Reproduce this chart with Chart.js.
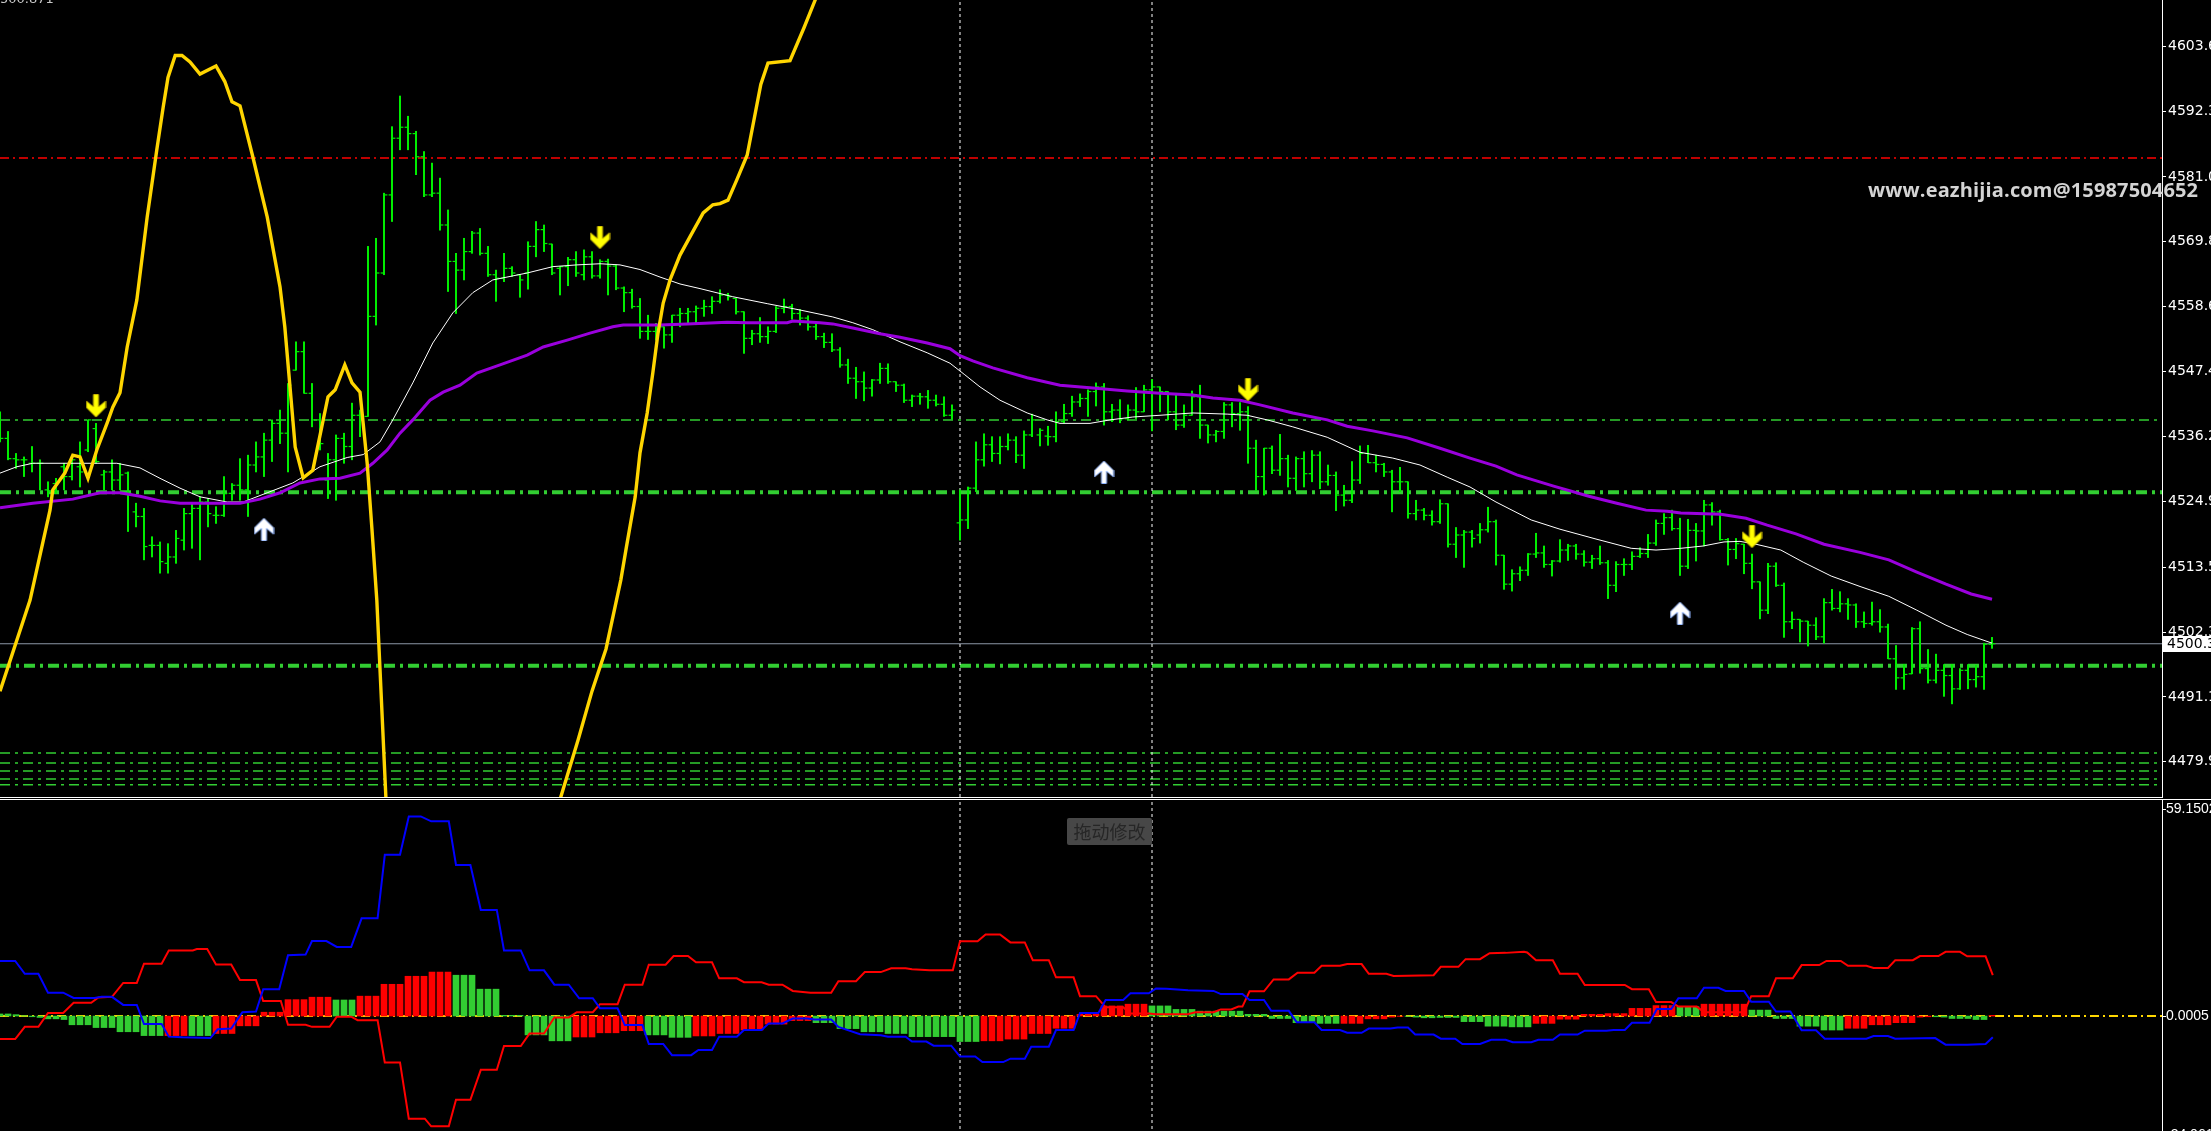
<!DOCTYPE html>
<html>
<head>
<meta charset="utf-8">
<title>K线图</title>
<script src="https://cdn.jsdelivr.net/npm/chart.js@4.4.1/dist/chart.umd.min.js"></script>
<style>
  html, body { margin: 0; padding: 0; background: #000; overflow: hidden; }
  body { width: 2211px; height: 1131px; position: relative; }
  canvas { position: absolute; left: 0; }
  #main { top: 0; }
  #sub { top: 800px; }
  .rule { position: absolute; left: 0; height: 1px; background: #fff; }
  #topText { position: absolute; left: 0; top: -9px; font: 13px "DejaVu Sans"; color: #c8c8c8; }
  #watermark { position: absolute; left: 1868px; top: 180px; font: bold 20px "Open Sans"; line-height: 19px; letter-spacing: 0.15px; color: #d4d4d4; white-space: nowrap; }
  #dragTip { position: absolute; left: 1067px; top: 818px; width: 85px; height: 27px; background: #474747; border-radius: 2px;
             font: 18px "Noto Sans CJK SC"; line-height: 27px; color: #262626; text-align: center; }
</style>
</head>
<body>
<canvas id="main" width="2211" height="797"></canvas>
<div class="rule" style="top:797px;width:2163px"></div>
<div class="rule" style="top:799px;width:2211px"></div>
<canvas id="sub" width="2211" height="341"></canvas>
<div id="topText">500.871</div>
<div id="watermark">www.eazhijia.com@15987504652</div>
<div id="dragTip">拖动修改</div>
<script>
// ---- price panel data ----
const priceTicks = [4603.6, 4592.3, 4581.0, 4569.8, 4558.6, 4547.4, 4536.2, 4524.9, 4513.5, 4502.3, 4491.1, 4479.9];
const priceMin = 4473.8, priceMax = 4611.6;
const lastPrice = 4500.3;

const barOpen = [
  4539.0,4535.8,4532.3,4532.1,4531.5,4531.5,4526.9,4528.0,4530.9,4529.2,
  4530.9,4533.8,4537.5,4529.5,4530.0,4528.6,4529.8,4523.1,4522.3,4517.3,
  4517.3,4514.2,4515.3,4518.2,4522.8,4523.7,4524.8,4522.5,4522.5,4526.3,
  4527.7,4526.9,4531.2,4532.6,4535.5,4538.4,4536.7,4547.6,4550.8,4543.6,
  4539.0,4528.6,4532.1,4535.8,4534.4,4539.8,4539.6,4556.9,4564.4,4577.9,
  4587.7,4589.6,4588.5,4584.5,4577.9,4578.2,4572.7,4566.4,4564.9,4568.1,
  4571.3,4567.8,4564.1,4563.5,4565.2,4564.1,4564.4,4569.0,4571.9,4569.4,
  4565.2,4565.5,4566.7,4564.1,4567.2,4563.9,4566.4,4565.6,4561.8,4561.0,
  4558.6,4554.3,4554.3,4555.1,4553.7,4557.1,4557.4,4557.7,4558.3,4558.6,
  4559.5,4560.6,4560.0,4557.7,4553.1,4553.9,4553.4,4554.3,4558.3,4558.6,
  4557.4,4556.6,4555.1,4553.4,4552.4,4551.1,4548.5,4546.2,4545.6,4544.5,
  4545.9,4547.9,4545.6,4545.0,4542.4,4543.1,4543.0,4542.4,4541.7,4539.8,
  4521.2,4521.7,4527.2,4532.1,4534.7,4533.2,4534.4,4535.5,4532.9,4536.4,
  4536.4,4536.2,4536.1,4538.7,4540.1,4542.1,4542.7,4543.9,4544.7,4540.4,
  4540.7,4539.2,4540.7,4540.4,4544.2,4544.7,4543.9,4540.4,4538.1,4539.8,
  4543.0,4538.1,4536.4,4537.0,4541.6,4540.1,4540.4,4534.1,4529.2,4534.1,
  4530.3,4532.3,4528.9,4532.3,4529.7,4532.9,4528.3,4529.4,4526.0,4525.1,
  4528.6,4533.2,4531.6,4531.3,4530.0,4528.3,4528.3,4522.8,4523.4,4522.5,
  4521.4,4524.5,4517.5,4519.1,4519.6,4519.1,4520.0,4521.4,4515.6,4510.6,
  4512.4,4513.0,4515.8,4516.0,4514.0,4514.6,4516.5,4517.2,4515.8,4514.4,
  4515.0,4514.3,4510.4,4514.0,4514.0,4515.4,4515.9,4517.7,4521.1,4522.1,
  4520.2,4513.7,4519.9,4519.8,4524.3,4523.1,4518.3,4516.6,4517.5,4514.2,
  4511.0,4506.1,4513.7,4510.4,4504.1,4504.5,4504.2,4503.5,4501.5,4507.4,
  4506.4,4507.2,4507.0,4504.1,4503.8,4504.1,4503.2,4497.7,4494.4,4495.1,
  4502.9,4496.0,4494.0,4495.7,4494.8,4492.5,4495.7,4494.1,4494.6,4500.2
];
const barHigh = [
  4540.4,4537.0,4533.2,4532.6,4534.4,4532.1,4528.3,4528.9,4531.5,4532.6,
  4535.2,4539.0,4538.4,4530.3,4532.1,4531.5,4530.0,4524.6,4523.7,4518.8,
  4517.9,4517.6,4519.9,4523.7,4524.6,4525.7,4525.4,4524.0,4529.2,4528.0,
  4532.3,4532.9,4535.2,4536.7,4539.0,4540.7,4545.3,4552.5,4552.5,4545.3,
  4540.1,4533.2,4536.4,4536.7,4541.9,4540.7,4569.0,4570.4,4578.2,4589.7,
  4595.0,4591.5,4588.9,4585.4,4583.4,4580.8,4575.3,4567.8,4570.4,4571.6,
  4572.1,4569.0,4564.9,4567.8,4565.5,4564.1,4569.8,4573.3,4572.7,4569.4,
  4565.5,4567.1,4568.1,4568.4,4568.1,4566.7,4566.8,4565.8,4562.0,4561.6,
  4560.0,4557.1,4555.7,4555.1,4557.1,4558.3,4558.3,4558.7,4559.7,4560.3,
  4561.5,4560.9,4560.0,4557.7,4554.5,4556.7,4555.1,4558.6,4559.9,4559.0,
  4558.1,4557.0,4555.8,4554.0,4553.9,4551.5,4549.5,4548.1,4547.3,4546.0,
  4548.8,4548.7,4545.6,4545.2,4543.3,4543.6,4544.1,4543.3,4543.0,4541.6,
  4526.9,4527.4,4535.2,4536.6,4536.1,4536.1,4536.6,4536.1,4537.1,4540.0,
  4537.5,4537.9,4540.4,4541.7,4543.1,4543.5,4544.2,4545.4,4545.3,4541.7,
  4542.5,4541.6,4544.6,4545.0,4546.0,4544.7,4543.9,4543.6,4541.6,4544.0,
  4545.0,4538.1,4537.2,4542.0,4542.0,4542.0,4541.3,4535.5,4534.1,4534.5,
  4536.5,4532.9,4532.6,4533.5,4533.7,4533.5,4531.2,4530.0,4527.7,4531.8,
  4534.5,4534.6,4532.9,4531.5,4530.3,4530.8,4528.3,4525.1,4523.7,4523.3,
  4525.2,4524.5,4520.4,4519.9,4519.9,4521.1,4523.9,4521.7,4515.6,4513.1,
  4513.6,4515.9,4519.4,4517.2,4514.7,4518.3,4517.5,4517.5,4516.4,4515.6,
  4517.2,4514.7,4514.5,4515.0,4516.2,4516.9,4519.2,4521.7,4522.8,4523.4,
  4522.0,4521.8,4521.1,4525.1,4524.7,4523.4,4518.5,4518.5,4517.5,4515.8,
  4511.0,4514.2,4514.3,4510.8,4505.8,4504.5,4504.2,4504.8,4508.1,4509.7,
  4509.3,4508.1,4507.2,4505.8,4507.5,4506.2,4503.7,4500.0,4496.7,4503.1,
  4504.1,4499.3,4498.5,4496.7,4496.7,4496.0,4496.7,4496.6,4500.4,4501.4
];
const barLow = [
  4535.2,4532.1,4530.6,4529.2,4530.0,4526.9,4525.7,4526.3,4526.9,4528.6,
  4527.4,4533.5,4531.5,4526.9,4526.9,4526.9,4519.7,4520.5,4514.8,4515.3,
  4512.5,4512.5,4514.2,4516.5,4516.8,4514.8,4520.5,4521.1,4522.3,4525.1,
  4525.1,4522.3,4530.0,4529.2,4531.8,4534.9,4530.0,4547.6,4543.6,4537.8,
  4533.8,4525.4,4525.1,4531.5,4532.1,4536.1,4539.6,4555.4,4564.1,4573.3,
  4585.7,4585.7,4581.4,4577.6,4577.6,4571.8,4561.2,4557.4,4563.2,4567.8,
  4567.5,4563.8,4559.5,4562.9,4563.8,4560.2,4561.6,4567.2,4568.1,4564.1,
  4560.6,4562.2,4563.8,4563.2,4563.5,4563.5,4560.6,4561.5,4557.7,4558.3,
  4553.1,4552.9,4552.8,4551.4,4552.4,4555.1,4555.7,4555.7,4556.9,4557.4,
  4559.2,4559.7,4557.3,4550.5,4552.0,4552.4,4552.2,4554.1,4557.5,4556.4,
  4555.4,4554.5,4552.9,4551.5,4550.8,4548.1,4545.3,4542.7,4542.3,4543.1,
  4545.3,4545.3,4543.9,4542.0,4541.3,4541.7,4541.0,4541.4,4539.6,4539.1,
  4518.2,4520.2,4526.6,4531.0,4531.8,4531.4,4533.8,4531.6,4530.6,4536.1,
  4534.5,4534.6,4535.2,4538.5,4539.6,4541.3,4539.6,4541.4,4538.1,4538.7,
  4538.5,4539.0,4539.2,4540.4,4537.1,4540.4,4539.0,4537.3,4537.7,4539.8,
  4535.8,4535.0,4535.2,4535.8,4537.8,4537.2,4531.5,4526.8,4526.0,4529.7,
  4529.4,4527.4,4526.8,4527.4,4528.3,4527.1,4527.7,4523.3,4524.1,4524.7,
  4528.0,4531.6,4530.0,4529.2,4523.1,4526.6,4522.0,4521.7,4521.7,4520.8,
  4521.1,4517.0,4515.2,4513.5,4517.0,4517.7,4519.6,4513.9,4509.7,4509.4,
  4511.2,4512.1,4515.2,4513.5,4512.0,4514.4,4514.7,4514.9,4513.7,4513.3,
  4514.0,4508.1,4509.3,4512.1,4513.1,4515.2,4515.2,4517.3,4519.2,4519.9,
  4512.1,4513.3,4514.6,4517.2,4520.8,4518.2,4513.9,4515.0,4512.4,4509.8,
  4504.6,4505.5,4510.2,4501.4,4502.9,4500.6,4499.9,4501.0,4500.4,4506.1,
  4505.8,4504.5,4503.1,4503.1,4503.5,4502.3,4497.7,4492.4,4492.4,4495.1,
  4495.2,4493.5,4493.5,4491.2,4489.9,4492.4,4492.5,4492.8,4492.4,4499.5
];
const barClose = [
  4535.8,4532.3,4532.1,4532.1,4531.5,4531.5,4526.6,4528.3,4529.2,4532.1,
  4530.0,4539.0,4531.8,4530.0,4528.6,4529.5,4526.3,4522.3,4517.1,4517.3,
  4514.5,4515.3,4518.5,4522.8,4523.7,4524.8,4522.8,4522.5,4526.3,4527.7,
  4526.9,4531.2,4532.6,4535.5,4538.4,4536.7,4545.0,4550.8,4543.6,4539.0,
  4534.9,4532.1,4535.8,4534.4,4539.8,4539.6,4556.9,4564.4,4577.9,4587.7,
  4589.6,4588.5,4584.5,4577.9,4578.2,4572.7,4566.4,4564.9,4568.1,4571.3,
  4567.8,4564.1,4563.5,4565.2,4564.4,4563.2,4569.0,4571.9,4569.5,4564.4,
  4565.5,4566.7,4564.4,4567.2,4563.9,4566.4,4565.6,4561.8,4561.0,4558.6,
  4554.3,4554.3,4555.1,4553.7,4557.1,4557.4,4557.7,4558.3,4558.6,4559.5,
  4560.6,4560.3,4557.7,4553.1,4553.9,4553.4,4554.3,4558.3,4558.6,4557.4,
  4556.6,4555.1,4553.4,4552.4,4551.1,4548.5,4546.2,4545.6,4544.5,4545.9,
  4547.9,4545.6,4545.0,4542.4,4543.1,4543.0,4542.4,4541.7,4539.8,4540.7,
  4521.7,4527.2,4532.1,4534.7,4533.2,4534.4,4535.5,4532.9,4536.4,4539.0,
  4537.2,4536.1,4538.7,4540.1,4542.1,4542.7,4543.9,4544.7,4540.4,4540.7,
  4539.2,4540.7,4540.4,4544.2,4544.7,4543.9,4540.4,4538.1,4539.8,4543.0,
  4538.1,4536.4,4537.0,4541.6,4540.1,4540.4,4534.1,4529.2,4534.1,4530.3,
  4532.3,4528.9,4532.3,4529.7,4532.9,4528.3,4529.4,4526.0,4525.1,4528.6,
  4533.2,4531.6,4531.3,4530.0,4528.3,4528.3,4522.8,4523.4,4522.5,4521.4,
  4524.5,4517.5,4519.1,4519.6,4518.5,4520.0,4521.4,4515.6,4510.6,4512.4,
  4513.0,4515.8,4516.0,4514.0,4514.6,4516.5,4517.2,4515.8,4514.4,4515.0,
  4514.3,4510.4,4514.0,4514.0,4515.4,4515.9,4517.7,4521.1,4522.1,4520.2,
  4513.7,4519.9,4519.8,4524.3,4523.1,4518.3,4516.6,4517.6,4514.2,4511.0,
  4506.1,4513.7,4510.4,4504.1,4504.5,4504.2,4503.5,4501.5,4507.4,4506.4,
  4507.2,4507.0,4504.1,4503.8,4504.1,4503.2,4497.7,4494.4,4495.0,4502.9,
  4496.0,4494.0,4495.7,4494.8,4492.5,4495.7,4494.1,4494.6,4500.2,4500.3
];

// indicator lines on the price panel: [bar index, price]
const yellowPathA = [
  [0,4492.1],[3.75,4507.8],[6.25,4523.4],[6.6,4526.9],[8.1,4529.8],[9.1,4532.9],[10,4532.6],[11,4528.9],
  [12.1,4533.8],[13.4,4538.5],[14.1,4541.2],[15,4543.7],[15.9,4551.6],[17.1,4559.7],[18.4,4574.1],[19.6,4585.7],
  [20.4,4593.1],[21,4598.2],[21.9,4602.0],[22.75,4602.0],[23.75,4600.9],[25,4598.8],[27,4600.2],[28.1,4597.5],
  [29,4594.0],[30,4593.3],[31.6,4584.5],[33.4,4574.1],[35,4562.0],[35.6,4555.1],[36.25,4544.7],[36.9,4534.3],
  [37.9,4529.0],[39.1,4530.3],[41,4543.0],[41.9,4544.2],[43.1,4548.5],[44,4545.4],[45,4543.8],[45.9,4531.5],
  [46.5,4520.0],[47.1,4507.9],[48.25,4473.3],[49,4456.0]
];
const yellowPathB = [
  [69.4,4468.0],[70.1,4473.8],[72.25,4483.6],[74,4492.1],[75.75,4499.4],[77.6,4511.3],[78.3,4517.0],[79.4,4525.7],
  [80,4533.3],[80.9,4540.2],[81.6,4547.1],[82.25,4554.0],[82.9,4559.2],[83.75,4563.2],[85,4567.5],[86.5,4571.3],
  [87.9,4574.8],[89.1,4576.2],[90,4576.4],[91,4577.0],[92.1,4580.5],[93.4,4584.8],[95.1,4597.0],[96,4600.7],
  [98.75,4601.1],[100.5,4606.8],[101.9,4611.6],[102.75,4615.1]
];
const whiteMA = [
  [0,4529.8],[2.1,4530.9],[4.1,4531.5],[14.6,4531.5],[17.5,4530.7],[20,4528.9],[22.5,4527.2],[25,4525.7],
  [28.4,4524.8],[30.4,4524.8],[33.4,4526.4],[36.6,4528.1],[40,4530.9],[43.4,4532.5],[45.4,4533.0],[47.5,4535.2],
  [49.1,4539.0],[51.6,4545.4],[54.1,4552.3],[56.6,4557.5],[59.1,4561.0],[61.6,4563.2],[65.9,4564.4],[69.1,4565.5],
  [72.1,4565.8],[75,4566.0],[77.5,4565.8],[80,4565.0],[82.5,4563.7],[85,4562.5],[87.5,4561.7],[91.6,4560.3],
  [95.9,4559.1],[100,4558.0],[104.1,4556.8],[106.6,4555.8],[109.1,4554.6],[112.5,4552.5],[115.9,4550.6],[118.75,4548.8],
  [120.6,4546.8],[122.5,4544.7],[125,4542.4],[128.4,4540.2],[130.9,4539.0],[132.5,4538.4],[136.25,4538.4],[138.75,4539.0],
  [141.6,4539.5],[145,4539.8],[149.1,4540.2],[153.4,4540.0],[155.9,4539.8],[158.4,4539.0],[161.6,4537.8],[165.9,4536.0],
  [170,4533.4],[174.1,4532.4],[177.5,4531.2],[180.9,4529.1],[183.75,4527.4],[187,4524.8],[191.4,4521.7],[195,4520.1],
  [199.5,4518.4],[203.9,4516.8],[207,4516.5],[210.1,4516.8],[212.9,4517.2],[215.5,4517.9],[217.5,4518.0],[219.5,4517.5],
  [222.6,4516.5],[225.4,4514.4],[228.9,4512.0],[232.5,4510.2],[236.1,4508.5],[239.6,4506.1],[243.25,4503.5],[245.9,4501.9],
  [249,4500.4]
];
const purpleMA = [
  [0,4523.8],[4.1,4524.6],[9.1,4525.3],[12.5,4526.4],[15,4526.4],[17.5,4525.8],[20,4525.0],[22.5,4524.6],
  [30,4524.6],[32.5,4525.3],[35,4526.4],[37.5,4528.1],[40,4528.8],[42.5,4528.9],[45,4529.8],[46.6,4531.5],
  [48.4,4533.8],[50,4536.7],[51.6,4539.0],[53.75,4542.4],[55.4,4543.8],[57.5,4545.0],[59.6,4547.1],[62.5,4548.5],
  [65.9,4550.2],[67.9,4551.6],[70.9,4552.8],[73.75,4554.0],[76.6,4555.1],[77.9,4555.4],[82.5,4555.4],[85.9,4555.6],
  [90.9,4555.9],[93.4,4555.8],[98.4,4555.8],[99.1,4556.1],[102.5,4555.8],[104.1,4555.6],[106.6,4554.9],[110,4553.9],
  [112.5,4553.3],[115.9,4552.3],[118.75,4551.3],[120,4550.1],[121.6,4549.2],[124.1,4548.0],[128.4,4546.3],[132.5,4545.0],
  [136.6,4544.5],[140.9,4544.0],[145,4543.6],[149.1,4543.3],[151.6,4542.8],[155,4542.4],[157.5,4541.6],[161.6,4540.2],
  [165.9,4539.0],[168.4,4537.9],[171.6,4537.1],[175.9,4535.9],[180,4534.1],[183.75,4532.4],[187,4531.0],[189.6,4529.5],
  [194.1,4527.6],[198.6,4525.8],[202.1,4524.6],[205.75,4523.4],[208.4,4523.2],[210.1,4522.9],[215.1,4522.7],[218.25,4522.0],
  [220.9,4520.8],[224.5,4519.3],[228,4517.5],[232.5,4516.1],[236.1,4514.8],[239.6,4512.7],[243.25,4510.6],[246.4,4508.9],
  [249,4508.0]
];

// horizontal levels and markers
const levelRed = [4584.3];
const levelGreenThin = [4539.0, 4481.4, 4479.7, 4478.3, 4476.9, 4475.9];
const levelGreenThick = [4526.5, 4496.5];
const markerBars = [120, 144];
const arrowDownBars = [12, 75, 156, 219];
const arrowDownPrices = [4541.4, 4570.5, 4544.2, 4518.8];
const arrowUpBars = [33, 138, 210];
const arrowUpPrices = [4520.1, 4530.0, 4505.6];

// ---- oscillator panel data ----
const oscTicks = [59.1502, 0.0005, -34.0610];
const oscMin = -35.8, oscMax = 61.9;
const histValues = [
  0.6,0.6,0.4,0.1,-0.2,-0.4,-0.8,-0.8,-1.0,-2.5,
  -2.5,-2.5,-3.3,-3.3,-3.3,-4.5,-4.5,-4.5,-5.6,-5.6,
  -5.6,-5.6,-5.6,-5.6,-5.6,-5.6,-5.6,-5.0,-5.0,-5.0,
  -2.8,-2.8,-2.8,1.1,1.1,1.1,4.7,4.7,4.7,5.4,
  5.4,5.4,4.6,4.6,4.6,5.7,5.7,5.7,9.1,9.1,
  9.1,11.4,11.4,11.4,12.6,12.6,12.6,11.7,11.7,11.7,
  7.7,7.7,7.7,0.2,0.2,0.2,-5.4,-5.4,-5.4,-7.1,
  -7.1,-7.1,-6.0,-6.0,-6.0,-4.8,-4.8,-4.8,-4.2,-4.2,
  -4.2,-5.4,-5.4,-5.4,-6.1,-6.1,-6.1,-5.7,-5.7,-5.7,
  -5.0,-5.0,-5.0,-4.0,-4.0,-4.0,-2.3,-2.3,-2.3,-1.3,
  -1.3,-1.3,-1.9,-1.9,-1.9,-3.6,-3.6,-3.6,-4.5,-4.5,
  -4.5,-5.0,-5.0,-5.0,-5.9,-5.9,-5.9,-5.9,-5.9,-5.9,
  -7.3,-7.3,-7.3,-7.1,-7.1,-7.1,-6.6,-6.6,-6.6,-5.0,
  -5.0,-5.0,-3.5,-3.5,-3.5,0.5,0.5,0.5,2.9,2.9,
  2.9,3.4,3.4,3.4,2.9,2.9,2.9,1.9,1.9,1.9,
  1.4,1.4,1.4,1.4,1.4,1.4,0.5,0.5,0.5,-0.7,
  -0.7,-0.7,-1.9,-1.9,-1.9,-2.1,-2.1,-2.1,-2.1,-2.1,
  -2.1,-0.8,-0.8,-0.8,-0.3,-0.1,-0.1,-0.3,-0.5,-0.5,
  -0.4,-0.4,-0.4,-1.6,-1.6,-1.6,-2.9,-2.9,-2.9,-3.1,
  -3.1,-3.1,-2.1,-2.1,-2.1,-0.9,-0.9,-0.9,0.5,0.5,
  0.5,0.7,0.7,0.7,2.2,2.2,2.2,3.0,3.0,3.0,
  2.7,2.7,2.7,3.4,3.4,3.4,3.4,3.4,3.4,1.7,
  1.7,1.7,-0.7,-0.7,-0.7,-2.9,-2.9,-2.9,-4.0,-4.0,
  -4.0,-3.5,-3.5,-3.5,-2.5,-2.5,-2.5,-1.9,-1.9,-1.9,
  -0.3,-0.2,-0.2,-0.3,-0.7,-0.7,-0.7,-1.0,-1.0,0.2
];
// R = red bar, G = green bar (runs of equal colour)
const histColorRuns = [['G',21],['R',3],['G',3],['R',15],['G',3],['R',12],['G',15],['R',9],['G',6],['R',15],['G',21],
  ['R',21],['G',24],['R',8],['G',16],['R',18],['G',3],['R',6],['G',12],['R',11],['G',7],['R',1]];
const blueLine = [
  [0,15.8],[1.9,15.8],[3.1,12.1],[4.8,12.1],[6.0,6.7],[7.9,6.7],[9.2,5.2],[11.8,5.2],[12.7,5.5],[14.0,5.5],
  [15.4,3.2],[17.1,3.2],[18.0,-2.3],[20.2,-2.3],[21.1,-5.9],[22.8,-6.1],[26.3,-6.3],[27.2,-3.8],[28.9,-3.6],[30.3,1.1],
  [32.0,1.3],[32.9,7.7],[34.9,7.7],[36.0,17.4],[38.2,17.6],[39.0,21.5],[40.8,21.5],[42.1,19.8],[43.9,19.8],[45.2,28.0],
  [47.2,28.0],[48.1,46.2],[50.0,46.2],[51.1,57.2],[52.6,57.2],[53.9,55.8],[56.1,55.8],[57.0,43.3],[58.8,43.3],[60.1,30.4],
  [62.1,30.4],[63.0,18.8],[65.1,18.8],[66.2,13.1],[68.0,13.1],[69.3,9.0],[71.1,9.0],[72.4,5.1],[74.1,5.1],[75.0,2.2],
  [77.2,2.2],[78.1,-2.6],[80.3,-2.6],[81.1,-8.0],[82.9,-8.0],[84.0,-11.2],[86.4,-11.2],[87.3,-9.7],[89.0,-9.7],[89.9,-5.9],
  [92.1,-5.9],[93.0,-4.0],[95.2,-4.0],[96.1,-2.1],[97.8,-2.1],[99.1,-0.7],[100.9,-0.7],[101.8,-1.0],[103.9,-1.0],[104.8,-3.1],
  [107.5,-5.2],[110.1,-5.5],[111.0,-5.9],[113.2,-5.9],[114.0,-7.3],[115.8,-7.3],[116.7,-8.5],[118.9,-8.5],[120.0,-11.6],[121.9,-11.6],
  [122.8,-13.2],[125.4,-13.2],[126.3,-12.2],[128.1,-12.2],[128.9,-8.8],[131.1,-8.8],[132.0,-4.0],[134.2,-4.0],[135.0,0.9],[137.3,0.9],
  [138.2,4.6],[140.4,4.6],[141.3,6.5],[143.6,6.5],[144.5,7.9],[145.8,7.8],[148.5,7.4],[151.7,7.2],[152.6,6.3],[155.3,6.3],
  [156.2,4.6],[158.0,4.6],[158.9,1.5],[161.1,1.5],[162.1,-1.8],[164.3,-1.8],[165.2,-4.0],[167.5,-4.0],[168.4,-4.8],[170.2,-4.8],
  [171.1,-3.6],[173.8,-3.6],[174.7,-3.3],[176.0,-3.3],[176.9,-5.3],[179.2,-5.3],[180.1,-6.5],[181.9,-6.5],[182.8,-8.0],[185.0,-8.0],
  [186.4,-6.8],[188.2,-6.8],[189.1,-7.5],[191.4,-7.5],[192.3,-6.8],[194.1,-6.8],[195.0,-5.3],[197.2,-5.3],[198.1,-4.2],[200.8,-4.2],
  [201.7,-4.0],[203.1,-4.0],[204.0,-1.9],[206.2,-1.9],[207.1,2.0],[208.9,2.0],[209.8,5.1],[212.1,5.1],[213.0,8.1],[214.8,8.1],
  [215.7,7.2],[218.0,7.2],[218.9,4.1],[221.1,4.1],[222.0,1.3],[223.8,1.3],[225.2,-4.1],[227.0,-4.1],[228.1,-6.5],[233.3,-6.5],
  [234.2,-5.7],[236.0,-5.7],[236.9,-6.5],[241.9,-6.3],[243.2,-8.2],[245.9,-8.2],[248.2,-8.0],[249.1,-6.1]
];
const redLine = [
  [0,-6.6],[1.9,-6.6],[3.1,-3.1],[4.8,-3.1],[6.0,0.9],[7.9,0.9],[9.2,3.8],[11.4,3.8],[12.3,5.3],[14.0,5.5],
  [15.4,9.5],[17.1,9.5],[18.0,15.0],[20.2,15.0],[21.1,18.8],[24.1,18.8],[24.6,19.2],[25.9,19.2],[27.0,14.8],[28.9,14.8],
  [30.0,10.3],[32.0,10.3],[32.9,4.3],[35.1,4.3],[36.0,-2.5],[38.2,-2.5],[39.0,-3.1],[41.2,-3.1],[42.1,-0.2],[43.9,-0.2],
  [44.7,-1.2],[47.2,-1.2],[48.1,-13.3],[50.0,-13.3],[51.1,-29.4],[53.1,-29.4],[53.9,-31.6],[56.1,-31.6],[57.0,-24.0],[58.8,-24.0],
  [60.1,-15.4],[62.1,-15.4],[63.0,-8.6],[65.1,-8.6],[66.2,-5.0],[68.0,-5.0],[69.3,-0.4],[71.1,-0.4],[72.1,1.1],[74.1,1.1],
  [75.0,3.4],[77.2,3.4],[78.1,9.0],[80.3,9.0],[81.1,14.7],[83.2,14.7],[84.2,17.2],[86.0,17.2],[87.0,15.4],[89.0,15.4],
  [89.9,10.8],[92.1,10.8],[93.0,9.7],[95.2,9.7],[96.1,9.0],[97.8,9.0],[99.1,7.2],[101.3,6.7],[103.9,6.7],[104.8,10.0],
  [107.0,10.0],[108.1,12.6],[110.1,12.6],[111.4,13.7],[113.2,13.7],[114.0,13.4],[116.2,13.1],[119.1,13.1],[120.0,21.4],[122.2,21.4],
  [123.2,23.4],[125.0,23.4],[126.3,21.1],[128.1,21.1],[129.1,16.0],[131.1,16.0],[132.0,11.1],[134.2,11.1],[135.0,5.7],[137.0,5.7],
  [138.2,2.5],[140.4,2.5],[141.3,0.7],[143.6,0.7],[144.5,0.5],[148.5,0.5],[149.4,1.1],[151.7,1.1],[152.6,1.9],[153.9,1.9],
  [154.8,2.7],[155.3,2.7],[156.2,7.1],[158.0,7.1],[159.2,10.5],[161.1,10.5],[162.2,12.4],[164.3,12.4],[165.2,14.4],[167.5,14.4],
  [168.4,14.9],[170.2,14.9],[171.1,12.1],[173.3,12.1],[174.2,11.5],[179.2,11.7],[180.1,14.1],[182.3,14.1],[183.2,16.3],[185.0,16.3],
  [186.2,18.0],[188.2,18.1],[190.5,18.4],[190.9,18.2],[192.0,16.0],[194.1,16.0],[195.0,12.1],[197.2,12.1],[198.1,8.9],[203.1,8.9],
  [204.0,7.7],[206.1,7.7],[207.0,4.0],[208.9,4.0],[209.8,2.7],[212.1,2.7],[213.0,1.1],[218.0,1.1],[218.9,5.7],[221.1,5.7],
  [222.0,10.8],[224.1,10.8],[225.2,14.6],[227.4,14.6],[228.3,15.8],[230.1,15.8],[231.0,14.4],[233.3,14.4],[234.2,13.8],[236.0,13.8],
  [236.9,16.0],[239.1,16.0],[240.0,17.2],[242.3,17.2],[243.2,18.4],[245.0,18.4],[245.9,17.1],[248.2,17.1],[249.1,11.7]
];

// ---- layout / style ----
const SLOTS = 270.25;          // bar slots across the plot width (8px each)
const AXIS_W = 49;
const BAR_GREEN = '#00ee00';
const LIME = '#32cd32';
const RED = '#ff0000';

const pts = arr => arr.map(([x, y]) => ({ x, y }));
const hline = v => [{ x: 0, y: v }, { x: SLOTS, y: v }];
const vline = (x, lo, hi) => [{ x, y: lo }, { x, y: hi }];

function lineDs(data, color, width, extra) {
  return Object.assign({ type: 'line', data, borderColor: color, borderWidth: width,
    pointRadius: 0, tension: 0, fill: false }, extra || {});
}

function makeArrow(fill, edge, down) {
  const c = document.createElement('canvas');
  c.width = 21; c.height = 24;
  const g = c.getContext('2d');
  if (!down) { g.translate(0, 24); g.scale(1, -1); }
  g.beginPath();
  g.moveTo(8, 0.5); g.lineTo(13, 0.5); g.lineTo(13, 13); g.lineTo(20, 7); g.lineTo(20, 13.5);
  g.lineTo(10.5, 23); g.lineTo(1, 13.5); g.lineTo(1, 7); g.lineTo(8, 13); g.closePath();
  g.fillStyle = fill; g.fill();
  g.lineWidth = 1; g.strokeStyle = edge; g.stroke();
  return c;
}

function axisConfig(ticks, min, max, digits, font, pad) {
  return {
    position: 'right', min, max,
    afterBuildTicks: ax => { ax.ticks = ticks.map(v => ({ value: v })); },
    afterFit: ax => { ax.width = AXIS_W; ax.paddingTop = 0; ax.paddingBottom = 0; },
    border: { display: true, color: '#ffffff', width: 1 },
    grid: { drawOnChartArea: false, drawTicks: true, tickLength: 4, color: '#ffffff' },
    ticks: { color: '#ffffff', font, padding: pad, autoSkip: false, callback: v => Number(v).toFixed(digits) }
  };
}

const priceBox = {
  id: 'priceBox',
  afterDraw(chart) {
    const y = chart.scales.y.getPixelForValue(lastPrice);
    const left = chart.chartArea.right + 1;
    const ctx = chart.ctx;
    ctx.save();
    ctx.fillStyle = '#ffffff';
    ctx.fillRect(left, Math.round(y) - 8, chart.width - left, 16);
    ctx.fillStyle = '#000000';
    ctx.font = '14px "DejaVu Sans"';
    ctx.textBaseline = 'middle';
    ctx.fillText(lastPrice.toFixed(1), left + 4, y + 1);
    ctx.restore();
  }
};

const baseOptions = {
  responsive: false, animation: false, events: [],
  layout: { padding: 0, autoPadding: false },
  plugins: { legend: { display: false }, tooltip: { enabled: false } }
};

// ---- price panel ----
const mainSets = [];
levelRed.forEach(v => mainSets.push(lineDs(hline(v), RED, 1.5, { borderDash: [9, 4, 2, 4], order: 20 })));
levelGreenThin.forEach(v => mainSets.push(lineDs(hline(v), LIME, 1.5, { borderDash: [10, 5, 3, 5], order: 20 })));
levelGreenThick.forEach(v => mainSets.push(lineDs(hline(v), LIME, 4, { borderDash: [11, 5, 3, 5], order: 20 })));
mainSets.push(lineDs(hline(lastPrice), '#8c97a6', 1.2, { order: 19 }));
markerBars.forEach(b => mainSets.push(lineDs(vline(b, priceMin, priceMax), '#ffffff', 1, { borderDash: [3, 3], order: 18 })));

mainSets.push({
  type: 'bar', order: 10, grouped: false, barThickness: 1.4,
  data: barHigh.map((h, i) => ({ x: i, y: [barLow[i], h] })),
  backgroundColor: BAR_GREEN
});
mainSets.push({
  type: 'scatter', order: 9, showLine: false, pointStyle: 'line', pointRadius: 1.7, borderWidth: 1.2,
  borderColor: BAR_GREEN, data: barOpen.map((v, i) => ({ x: i - 0.21, y: v }))
});
mainSets.push({
  type: 'scatter', order: 9, showLine: false, pointStyle: 'line', pointRadius: 1.7, borderWidth: 1.2,
  borderColor: BAR_GREEN, data: barClose.map((v, i) => ({ x: i + 0.21, y: v }))
});
mainSets.push(lineDs(pts(whiteMA), '#ffffff', 1, { order: 7 }));
mainSets.push(lineDs(pts(purpleMA), '#9a00dd', 3, { order: 6 }));
mainSets.push(lineDs(pts(yellowPathA), '#ffd500', 3.4, { order: 5 }));
mainSets.push(lineDs(pts(yellowPathB), '#ffd500', 3.4, { order: 5 }));
mainSets.push({
  type: 'scatter', order: 1, pointStyle: makeArrow('#ffff00', '#c8b400', true),
  data: arrowDownBars.map((b, i) => ({ x: b, y: arrowDownPrices[i] }))
});
mainSets.push({
  type: 'scatter', order: 1, pointStyle: makeArrow('#ffffff', '#8fb4ff', false),
  data: arrowUpBars.map((b, i) => ({ x: b, y: arrowUpPrices[i] }))
});

new Chart(document.getElementById('main'), {
  type: 'line',
  data: { datasets: mainSets },
  options: Object.assign({}, baseOptions, {
    scales: {
      x: { type: 'linear', min: 0, max: SLOTS, display: false, offset: false },
      y: axisConfig(priceTicks, priceMin, priceMax, 1, { family: 'DejaVu Sans', size: 14 }, 2)
    }
  }),
  plugins: [priceBox]
});

// ---- oscillator panel ----
const histColors = [];
histColorRuns.forEach(([c, n]) => { for (let k = 0; k < n; k++) histColors.push(c === 'R' ? RED : LIME); });

const subSets = [];
subSets.push(lineDs(hline(0), '#ffd700', 2, { borderDash: [9, 4, 2, 4], order: 20 }));
markerBars.forEach(b => subSets.push(lineDs(vline(b, oscMin, oscMax), '#ffffff', 1, { borderDash: [3, 3], order: 18 })));
subSets.push({
  type: 'bar', order: 10, grouped: false, barThickness: 6,
  data: histValues.map((v, i) => ({ x: i, y: v })),
  backgroundColor: histColors
});
subSets.push(lineDs(pts(redLine), RED, 2, { order: 5 }));
subSets.push(lineDs(pts(blueLine), '#0000ff', 2, { order: 4 }));

new Chart(document.getElementById('sub'), {
  type: 'line',
  data: { datasets: subSets },
  options: Object.assign({}, baseOptions, {
    scales: {
      x: { type: 'linear', min: 0, max: SLOTS, display: false, offset: false },
      y: axisConfig(oscTicks, oscMin, oscMax, 4, { family: 'Liberation Sans', size: 14 }, 0)
    }
  })
});
</script>
</body>
</html>
